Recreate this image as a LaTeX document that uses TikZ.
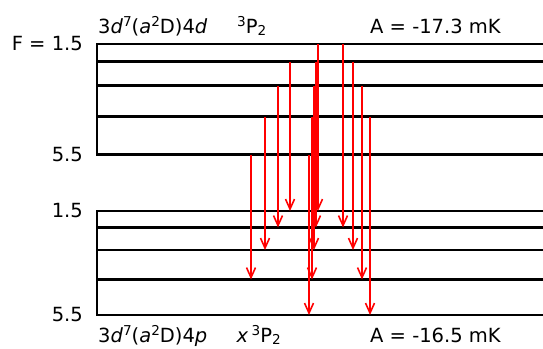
\documentclass[tikz,border=0pt]{standalone}
\usepackage{fontspec}
\setmainfont{DejaVu Sans}
\usetikzlibrary{arrows.meta}
\newcommand{\supr}[1]{\raisebox{7pt}{\fontsize{13.6}{14}\selectfont #1}}
\newcommand{\subr}[1]{\raisebox{-2.8pt}{\fontsize{13.6}{14}\selectfont #1}}
\begin{document}
\begin{tikzpicture}[x=1pt,y=-1pt,
  lvl/.style={line width=2.2pt, line join=miter},
  tr/.style={red, line width=1.6pt, -{Straight Barb[length=10pt,width=9pt]}},
  lab/.style={inner sep=0pt, font=\fontsize{19.5}{22}\selectfont}]
\useasboundingbox (0,0) rectangle (543,348);
% level coordinates
\coordinate (R) at (545,0);
\foreach \n/\y in {1/44,2/61.5,3/85.5,4/116.5,5/154.5} {\coordinate (U\n) at (96.7,\y);}
\foreach \n/\y in {1/211,2/227.5,3/250,4/279.5,5/315} {\coordinate (L\n) at (96.7,\y);}
% levels
\draw[lvl] (U1 -| R) -- (U1) -- (U5) -- (U5 -| R);
\draw[lvl] (L1 -| R) -- (L1) -- (L5) -- (L5 -| R);
\foreach \n in {2,3,4} {
  \draw[lvl] (U\n) -- (U\n -| R);
  \draw[lvl] (L\n) -- (L\n -| R);
}
% transitions
\foreach \x/\a/\b [count=\i] in {251/U5/L4, 265/U4/L3, 278/U3/L2, 290/U2/L1,
  309/U5/L5, 312/U4/L4, 314/U3/L3, 316/U2/L2, 318/U1/L1,
  343/U1/L2, 353/U2/L3, 362/U3/L4, 370/U4/L5} {
  \coordinate (c\i) at (\x,0);
  \draw[tr] (\a -| c\i) -- (\b -| c\i);
}
% F labels
\node[lab, anchor=east] (fu1) at (83,44) {F = 1.5};
\node[lab, anchor=east] (fu5) at (83,154.5) {5.5};
\node[lab, anchor=east] (fl1) at (83,211) {1.5};
\node[lab, anchor=east] (fl5) at (83,315) {5.5};
% top texts
\node[lab, anchor=base west] (tcfg) at (98,33) {3\textit{d}\supr{7}(\textit{a}\supr{2}D)4\textit{d}};
\node[lab, anchor=base west] (tterm) at (237,33) {\supr{3}P\subr{2}};
\node[lab, anchor=base west] (tA) at (370,33) {A = -17.3 mK};
% bottom texts
\node[lab, anchor=base west] (bcfg) at (98,342) {3\textit{d}\supr{7}(\textit{a}\supr{2}D)4\textit{p}};
\node[lab, anchor=base west] (bterm) at (236.5,342) {\textit{x}\,\supr{3}P\subr{2}};
\node[lab, anchor=base west] (bA) at (370,342) {A = -16.5 mK};
\end{tikzpicture}
\end{document}
